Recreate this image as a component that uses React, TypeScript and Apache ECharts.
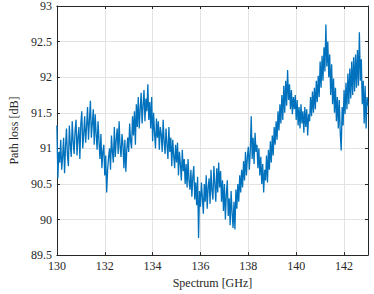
import React, { useEffect, useRef } from "react";
import * as echarts from "echarts";

const freqStart = 130;
const freqStep = 0.04;

const pathLoss: number[] = [
  91.32, 90.58, 90.95, 90.8, 91.12,
  90.7, 90.88, 91.15, 90.65, 91.02,
  91.28, 90.9, 90.75, 91.32, 91.05,
  90.88, 91.38, 91.1, 90.92, 91.25,
  91.4, 90.9, 91.15, 91.3, 90.85,
  91.35, 91.52, 91.0, 91.2, 91.45,
  91.08, 91.3, 91.58, 91.12, 91.4,
  91.67, 91.15, 91.35, 91.55, 91.05,
  91.48, 91.2, 90.98, 91.38, 91.1,
  90.85, 91.2, 90.72, 90.95, 91.05,
  90.62, 90.9, 90.38, 90.7, 90.88,
  91.0, 90.7, 91.18, 90.95, 90.8,
  91.3, 90.88, 91.12, 91.28, 90.92,
  91.38, 91.02, 90.88, 91.2, 91.05,
  90.72, 91.12, 90.67, 90.98, 91.15,
  90.95, 91.35, 91.1, 91.0, 91.45,
  91.18, 91.52, 91.05, 91.62, 91.3,
  91.72, 91.28, 91.55, 91.78, 91.35,
  91.6, 91.82, 91.38, 91.7, 91.52,
  91.9, 91.4, 91.65, 91.28, 91.72,
  91.1, 91.5, 91.22, 91.0, 91.42,
  91.15, 91.38, 90.98, 91.3, 91.2,
  90.95, 91.4, 91.1, 90.92, 91.28,
  91.05, 90.85, 91.3, 90.95, 91.15,
  90.75, 91.12, 90.9, 90.72, 91.05,
  90.8, 91.08, 90.62, 90.95, 90.78,
  90.55, 90.98, 90.68, 90.85, 90.5,
  90.78, 90.45, 90.85, 90.55, 90.42,
  90.7, 90.32, 90.6, 90.75, 90.28,
  90.52, 90.2, 90.6, 89.74, 90.4,
  90.18, 90.52, 90.3, 90.08, 90.5,
  90.25, 90.62, 90.15, 90.45, 90.58,
  90.22, 90.7, 90.4, 90.28, 90.75,
  90.5, 90.25, 90.72, 90.38, 90.8,
  90.45, 90.68, 90.25, 90.55, 90.12,
  90.5, 90.0, 90.35, 90.55, 90.05,
  90.3, 89.92, 90.4, 90.1, 89.88,
  90.25, 89.86, 90.42, 90.15, 90.5,
  90.25, 90.62, 90.38, 90.7, 90.45,
  90.82, 90.55, 90.95, 90.62, 90.88,
  91.02, 90.7, 90.95, 91.45, 90.85,
  91.15, 90.78, 91.22, 90.95, 91.05,
  90.72, 91.0, 90.62, 90.88, 90.5,
  90.78, 90.38, 90.7, 90.55, 90.9,
  90.52, 90.98, 90.7, 91.1, 90.8,
  91.18, 90.9, 91.3, 91.05, 91.38,
  91.12, 91.52, 91.25, 91.62, 91.35,
  91.75, 91.4, 91.88, 91.5, 91.95,
  91.6, 92.1, 91.68, 91.9, 91.55,
  91.82, 91.48, 91.72, 91.55, 91.75,
  91.4, 91.68, 91.32, 91.58, 91.28,
  91.62, 91.35, 91.52, 91.22, 91.58,
  91.3, 91.55, 91.18, 91.48, 91.38,
  91.72, 91.45, 91.8, 91.5, 91.85,
  91.55, 91.95, 91.65, 92.02, 91.72,
  92.22, 91.85, 92.3, 91.95, 92.42,
  92.08, 92.74, 92.15, 92.5, 92.0,
  92.32, 91.75, 92.18, 91.62, 91.98,
  91.5, 91.85, 91.38, 91.72, 91.28,
  91.68, 91.22, 90.97, 91.58, 91.32,
  91.82, 91.48, 91.92, 91.55, 92.05,
  91.62, 92.12, 91.7, 92.22, 91.75,
  92.28, 91.8, 92.32, 91.85, 92.38,
  91.88, 92.63, 91.95, 92.25, 91.62,
  91.95, 91.35, 91.88, 91.28, 91.72,
  91.6,
];

const xName = "Spectrum [GHz]";
const yName = "Path loss [dB]";

export default function App() {
  const ref = useRef<HTMLDivElement>(null);
  useEffect(() => {
    if (!ref.current) return;
    const chart = echarts.init(ref.current, undefined, { renderer: "svg" });
    const data = pathLoss.map((v, i) => [+(freqStart + i * freqStep).toFixed(2), v]);
    const font = "serif";
    const axisColor = "#262626";
    const gridColor = "#e3e3e3";
    const baseX = {
      type: "value" as const,
      min: 130,
      max: 143,
      interval: 2,
      axisLine: { show: true, onZero: false, lineStyle: { color: axisColor, width: 1 } },
      axisTick: { show: true, inside: true, length: 3, lineStyle: { color: axisColor } },
    };
    const baseY = {
      type: "value" as const,
      min: 89.5,
      max: 93,
      interval: 0.5,
      axisLine: { show: true, onZero: false, lineStyle: { color: axisColor, width: 1 } },
      axisTick: { show: true, inside: true, length: 3, lineStyle: { color: axisColor } },
    };
    chart.setOption({
      animation: false,
      textStyle: { fontFamily: font },
      grid: { left: 46, right: 6, top: 6, bottom: 35, containLabel: false },
      xAxis: [
        {
          ...baseX,
          position: "bottom",
          name: xName,
          nameLocation: "middle",
          nameGap: 18,
          nameTextStyle: { fontFamily: font, fontSize: 12, color: axisColor },
          axisLabel: { fontFamily: font, fontSize: 12, color: axisColor, margin: 5, showMaxLabel: false },
          splitLine: { show: true, lineStyle: { color: gridColor, width: 1 } },
        },
        {
          ...baseX,
          position: "top",
          axisLabel: { show: false },
          splitLine: { show: false },
        },
      ],
      yAxis: [
        {
          ...baseY,
          position: "left",
          name: yName,
          nameLocation: "middle",
          nameGap: 32,
          nameTextStyle: { fontFamily: font, fontSize: 12, color: axisColor },
          axisLabel: { fontFamily: font, fontSize: 12, color: axisColor, margin: 5 },
          splitLine: { show: true, lineStyle: { color: gridColor, width: 1 } },
        },
        {
          ...baseY,
          position: "right",
          axisLabel: { show: false },
          splitLine: { show: false },
        },
      ],
      series: [
        {
          type: "line",
          data,
          xAxisIndex: 0,
          yAxisIndex: 0,
          showSymbol: false,
          symbol: "none",
          lineStyle: { color: "#0072BD", width: 1.3 },
          clip: true,
        },
      ],
    });
    return () => chart.dispose();
  }, []);
  return <div ref={ref} style={{ width: 374, height: 294, position: "absolute", left: 0, top: 0 }} />;
}
